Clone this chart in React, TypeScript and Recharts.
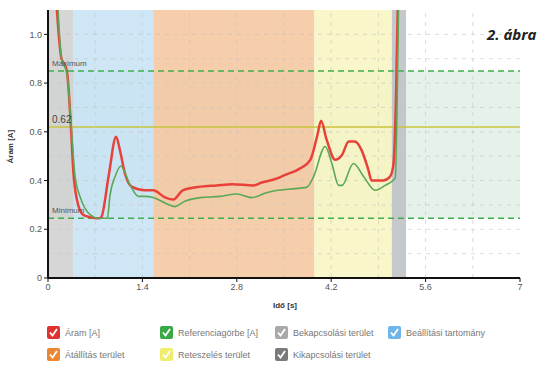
import { LineChart, Line, XAxis, YAxis, ReferenceArea, ReferenceLine, Label } from 'recharts'

// measured current (Áram [A])
const aramTime = [0.12, 0.2, 0.24, 0.28, 0.34, 0.375, 0.43, 0.52, 0.62, 0.75, 0.79, 0.9, 1.01, 1.07, 1.14, 1.24, 1.44, 1.56, 1.74, 1.86, 2.0, 2.26, 2.5, 2.73, 3.05, 3.15, 3.41, 3.49, 3.74, 3.89, 3.99, 4.05, 4.13, 4.26, 4.36, 4.46, 4.55, 4.65, 4.75, 4.8, 4.97, 5.07, 5.12, 5.16, 5.19]
const aramValue = [1.15, 0.9, 0.88, 0.85, 0.62, 0.44, 0.32, 0.26, 0.25, 0.245, 0.25, 0.42, 0.58, 0.52, 0.43, 0.375, 0.36, 0.36, 0.33, 0.322, 0.36, 0.375, 0.38, 0.385, 0.38, 0.39, 0.41, 0.42, 0.45, 0.485, 0.58, 0.645, 0.57, 0.485, 0.505, 0.56, 0.56, 0.525, 0.445, 0.4, 0.4, 0.415, 0.46, 0.73, 1.15]

// reference curve (Referenciagörbe [A])
const refTime = [0.14, 0.2, 0.28, 0.35, 0.4, 0.48, 0.59, 0.75, 0.88, 0.92, 1.0, 1.08, 1.22, 1.34, 1.44, 1.56, 1.76, 1.88, 2.03, 2.26, 2.55, 2.8, 3.02, 3.24, 3.41, 3.59, 3.84, 3.94, 4.11, 4.21, 4.31, 4.36, 4.53, 4.68, 4.85, 5.0, 5.15, 5.2]
const refValue = [1.15, 0.9, 0.84, 0.6, 0.42, 0.33, 0.27, 0.245, 0.245, 0.34, 0.42, 0.46, 0.38, 0.335, 0.335, 0.33, 0.305, 0.293, 0.315, 0.33, 0.335, 0.345, 0.33, 0.35, 0.36, 0.365, 0.373, 0.417, 0.54, 0.47, 0.38, 0.38, 0.47, 0.417, 0.36, 0.38, 0.41, 1.15]

const xTicks = [0, 1.4, 2.8, 4.2, 5.6, 7]
const yTicks = [0, 0.2, 0.4, 0.6, 0.8, 1.0]
const xGrid = [0.7, 1.4, 2.1, 2.8, 3.5, 4.2, 4.9, 5.6, 6.3]
const yGrid = [0.1, 0.2, 0.3, 0.4, 0.5, 0.6, 0.7, 0.8, 0.9, 1.0]

const maximum = 0.85
const minimum = 0.245
const setpoint = 0.62

// zones along the time axis
const zones = [
  { name: 'Bekapcsolási terület', from: 0, to: 0.38, color: '#cfcfcf' },
  { name: 'Beállítási tartomány', from: 0.38, to: 1.56, color: '#c6e2f4' },
  { name: 'Átállítás terület', from: 1.56, to: 3.95, color: '#f5c59e' },
  { name: 'Reteszelés terület', from: 3.95, to: 5.1, color: '#f8f5c0' },
  { name: 'Kikapcsolási terület', from: 5.1, to: 5.31, color: '#bcc0c3' },
]

const legendRows = [
  [
    { label: 'Áram [A]', color: '#e0332f' },
    { label: 'Referenciagörbe [A]', color: '#3aa845' },
    { label: 'Bekapcsolási terület', color: '#a9a9a9' },
    { label: 'Beállítási tartomány', color: '#6fb5ea' },
  ],
  [
    { label: 'Átállítás terület', color: '#ec8633' },
    { label: 'Reteszelés terület', color: '#f0ec6e' },
    { label: 'Kikapcsolási terület', color: '#7a7a7a' },
  ],
]
const legendX = [47, 160, 275, 388]

const aramData = aramTime.map((t, i) => ({ t, v: aramValue[i] }))
const refData = refTime.map((t, i) => ({ t, v: refValue[i] }))

function CheckIcon({ color }: { color: string }) {
  return (
    <svg width={13} height={13} style={{ display: 'block' }}>
      <rect x={0} y={0} width={13} height={13} rx={2} fill={color} />
      <path d="M3 6.5 L5.5 9.5 L10 3" stroke="#fff" strokeWidth={1.8} fill="none" />
    </svg>
  )
}

const tickStyle = { fontSize: 9, fill: '#555', fontFamily: 'Arial, sans-serif' }

export default function App() {
  return (
    <div style={{ position: 'absolute', left: 0, top: 0, width: 546, height: 365, background: '#fff', fontFamily: 'Arial, sans-serif' }}>
      <LineChart width={546} height={300} margin={{ top: 10, right: 26, left: 0, bottom: 0 }}>
        <XAxis
          type="number"
          dataKey="t"
          domain={[0, 7]}
          ticks={xTicks}
          tick={tickStyle}
          tickSize={4}
          height={22}
          axisLine={{ stroke: '#111', strokeWidth: 2 }}
          tickLine={{ stroke: '#111' }}
          allowDataOverflow
        />
        <YAxis
          type="number"
          domain={[0, 1.1]}
          ticks={yTicks}
          tick={tickStyle}
          tickFormatter={(v: number) => (v === 0 ? '0' : v.toFixed(1))}
          tickSize={4}
          width={48}
          axisLine={{ stroke: '#111', strokeWidth: 2 }}
          tickLine={{ stroke: '#111' }}
          allowDataOverflow
        />
        <ReferenceArea x1={0} x2={7} y1={minimum} y2={maximum} fill="#e5f2e9" fillOpacity={1} stroke="none" />
        {zones.map((z) => (
          <ReferenceArea key={z.name} x1={z.from} x2={z.to} y1={0} y2={1.1} fill={z.color} fillOpacity={0.85} stroke="none" />
        ))}
        {xGrid.map((x) => (
          <ReferenceLine key={'x' + x} x={x} stroke="#c4c4c4" strokeOpacity={0.6} strokeDasharray="4 5" />
        ))}
        {yGrid.map((y) => (
          <ReferenceLine key={'y' + y} y={y} stroke="#c4c4c4" strokeOpacity={0.6} strokeDasharray="4 5" />
        ))}
        <ReferenceLine y={maximum} stroke="#3fae4c" strokeWidth={1.5} strokeDasharray="6 4">
          <Label value="Maximum" position="insideTopLeft" offset={4} style={{ fontSize: 8, fill: '#555' }} dy={-15} />
        </ReferenceLine>
        <ReferenceLine y={minimum} stroke="#3fae4c" strokeWidth={1.5} strokeDasharray="6 4">
          <Label value="Minimum" position="insideTopLeft" offset={4} style={{ fontSize: 8, fill: '#555' }} dy={-15} />
        </ReferenceLine>
        <ReferenceLine y={setpoint} stroke="#c9c43e" strokeWidth={1.5}>
          <Label value="0.62" position="insideTopLeft" offset={4} style={{ fontSize: 10, fill: '#444' }} dy={-15} />
        </ReferenceLine>
        <Line data={aramData} dataKey="v" type="monotone" stroke="#e8413a" strokeWidth={2.5} dot={false} isAnimationActive={false} />
        <Line data={refData} dataKey="v" type="monotone" stroke="#5aa856" strokeWidth={1.6} dot={false} isAnimationActive={false} />
      </LineChart>
      <div style={{ position: 'absolute', left: -2, top: 147, width: 24, transform: 'rotate(-90deg)', transformOrigin: 'center', fontSize: 8, fontWeight: 'bold', color: '#333', whiteSpace: 'nowrap', textAlign: 'center' }}>
        Áram [A]
      </div>
      <div style={{ position: 'absolute', left: 273, top: 301, fontSize: 8, fontWeight: 'bold', color: '#333' }}>Idő [s]</div>
      <div style={{ position: 'absolute', left: 487, top: 24, fontSize: 15, fontWeight: 'bold', fontStyle: 'italic', fontFamily: '"Open Sans", sans-serif', color: '#222' }}>
        2. ábra
      </div>
      {legendRows.map((row, r) =>
        row.map((item, i) => (
          <div key={item.label} style={{ position: 'absolute', left: legendX[i], top: (r === 0 ? 333 : 355) - 7, display: 'flex', alignItems: 'center', gap: 5, fontSize: 9, color: '#777', whiteSpace: 'nowrap' }}>
            <CheckIcon color={item.color} />
            <span>{item.label}</span>
          </div>
        ))
      )}
    </div>
  )
}
